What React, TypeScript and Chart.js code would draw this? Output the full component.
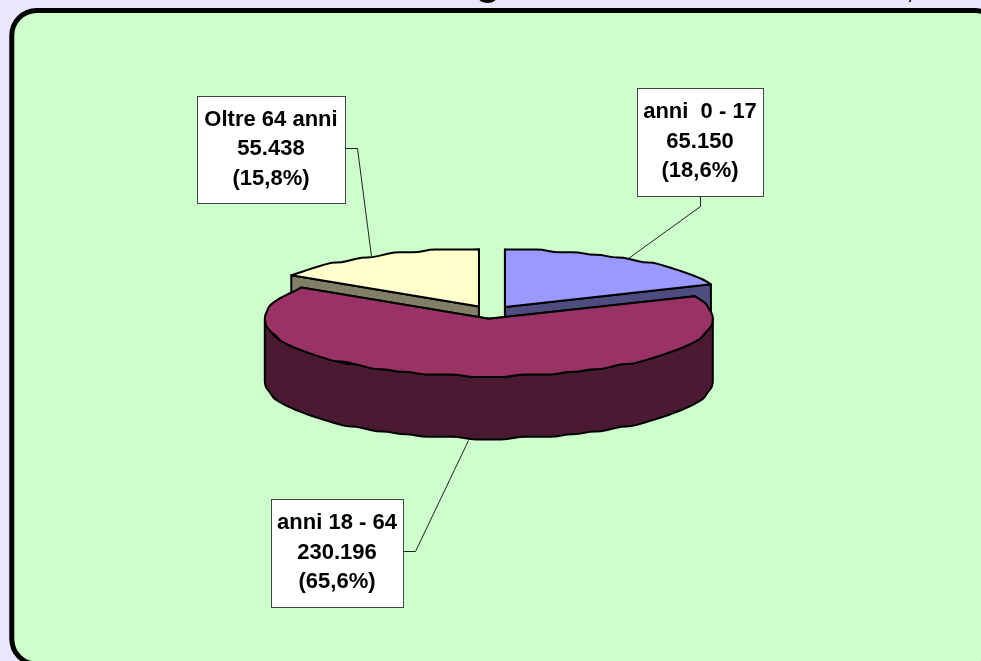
import { useEffect, useRef } from "react";
import { Chart, registerables } from "chart.js";

Chart.register(...registerables);

// Population by age band
const categories = ["anni  0 - 17", "anni 18 - 64", "Oltre 64 anni"];
const values = [65150, 230196, 55438];
const valueLabels = ["65.150", "230.196", "55.438"];
const shareLabels = ["(18,6%)", "(65,6%)", "(15,8%)"];

const topColors = ["#9999FF", "#993366", "#FFFFCC"];
const wallColors = ["#4D4D80", "#4A1A33", "#808066"];

// Callout boxes and their elbow leaders, per slice
const boxes = [
  { x: 637, y: 88, w: 126, h: 108 },
  { x: 271, y: 499, w: 132, h: 108 },
  { x: 197, y: 96, w: 148, h: 107 },
];
const leaders = [
  [[700, 196], [700, 206], [628, 258]],
  [[403, 551], [415, 551], [468, 440]],
  [[345, 148], [357, 148], [371, 256]],
];

const TILT = 0.256;
const EXPLODE = 25.3;
const DEPTH = 62.5;
const OUTLINE = 2;

type Pt = [number, number];

// The rim is sampled on a coarse pixel grid, which gives the edge its stepped look
function rim(cx: number, cy: number, r: number, a0: number, a1: number): Pt[] {
  const step = (3.2 * Math.PI) / 180;
  const n = Math.max(2, Math.ceil(Math.abs(a1 - a0) / step));
  const pts: Pt[] = [];
  for (let i = 0; i <= n; i++) {
    const a = a0 + ((a1 - a0) * i) / n;
    const px = cx + r * Math.cos(a);
    const py = cy + r * TILT * Math.sin(a);
    const snapped = i === 0 || i === n;
    pts.push([px, snapped ? py : Math.round(py / 2.6) * 2.6]);
  }
  return pts;
}

function trace(ctx: CanvasRenderingContext2D, pts: Pt[]) {
  for (let i = 1; i < pts.length - 1; i++) {
    const mx = (pts[i][0] + pts[i + 1][0]) / 2;
    const my = (pts[i][1] + pts[i + 1][1]) / 2;
    ctx.quadraticCurveTo(pts[i][0], pts[i][1], mx, my);
  }
  const last = pts[pts.length - 1];
  ctx.lineTo(last[0], last[1]);
}

function paint(ctx: CanvasRenderingContext2D, fill: string) {
  ctx.fillStyle = fill;
  ctx.fill();
  ctx.stroke();
}

const roundedPanel = {
  id: "roundedPanel",
  beforeDraw(chart: Chart) {
    const { ctx, width, height } = chart;
    ctx.save();
    ctx.fillStyle = "#EAE6FF";
    ctx.fillRect(0, 0, width, height);

    // Descenders of the heading that runs off the top edge
    ctx.fillStyle = "#000000";
    ctx.font = 'bold 40px "Liberation Sans"';
    ctx.textAlign = "center";
    ctx.textBaseline = "alphabetic";
    ctx.fillText("g", 488, -5.5);
    ctx.font = 'bold 20px "Liberation Sans"';
    ctx.fillText(",", 910, -1.5);

    ctx.beginPath();
    ctx.roundRect(11.8, 10.5, 988, 653.5, 25);
    ctx.fillStyle = "#CCFFCC";
    ctx.fill();
    ctx.lineWidth = 5;
    ctx.strokeStyle = "#000000";
    ctx.stroke();
    ctx.restore();
  },
};

const tiltedPie = {
  id: "tiltedPie",
  beforeDatasetsDraw(chart: Chart) {
    const { ctx } = chart;
    const arcs = chart.getDatasetMeta(0).data as any[];
    ctx.save();
    ctx.lineWidth = OUTLINE;
    ctx.lineJoin = "round";
    ctx.strokeStyle = "#000000";

    // Back slices first, so the large front slice overlaps their walls
    const order = arcs.map((_, i) => i).sort((a, b) => (a === 1 ? 1 : b === 1 ? -1 : a - b));
    for (const i of order) {
      const arc = arcs[i];
      const { startAngle: a0, endAngle: a1, outerRadius: r } = arc;
      const mid = (a0 + a1) / 2;
      const cx = arc.x + Math.cos(mid) * EXPLODE;
      const cy = arc.y + Math.sin(mid) * EXPLODE * TILT;
      const edge = (a: number): Pt => [cx + r * Math.cos(a), cy + r * TILT * Math.sin(a)];

      // Flat cut faces
      for (const a of [a0, a1]) {
        const [ex, ey] = edge(a);
        ctx.beginPath();
        ctx.moveTo(cx, cy);
        ctx.lineTo(ex, ey);
        ctx.lineTo(ex, ey + DEPTH);
        ctx.lineTo(cx, cy + DEPTH);
        ctx.closePath();
        paint(ctx, wallColors[i]);
      }

      // Curved wall on the part of the rim facing the viewer
      const from = Math.max(a0, 0);
      const to = Math.min(a1, Math.PI);
      if (to > from) {
        const upper = rim(cx, cy, r, from, to);
        const lower = rim(cx, cy + DEPTH, r, to, from);
        ctx.beginPath();
        ctx.moveTo(upper[0][0], upper[0][1]);
        trace(ctx, upper);
        ctx.lineTo(lower[0][0], lower[0][1]);
        trace(ctx, lower);
        ctx.closePath();
        paint(ctx, wallColors[i]);
      }

      // Top surface
      const top = rim(cx, cy, r, a0, a1);
      ctx.beginPath();
      ctx.moveTo(cx, cy);
      ctx.lineTo(top[0][0], top[0][1]);
      trace(ctx, top);
      ctx.closePath();
      paint(ctx, arc.options.backgroundColor);
    }
    ctx.restore();
    return false;
  },
};

const callouts = {
  id: "callouts",
  afterDraw(chart: Chart) {
    const { ctx } = chart;
    ctx.save();
    categories.forEach((name, i) => {
      const b = boxes[i];
      ctx.strokeStyle = "#222222";
      ctx.lineWidth = 1;
      ctx.beginPath();
      leaders[i].forEach(([x, y], k) => (k ? ctx.lineTo(x + 0.5, y + 0.5) : ctx.moveTo(x + 0.5, y + 0.5)));
      ctx.stroke();

      ctx.fillStyle = "#FFFFFF";
      ctx.fillRect(b.x, b.y, b.w, b.h);
      ctx.strokeStyle = "#444444";
      ctx.strokeRect(b.x + 0.5, b.y + 0.5, b.w, b.h);

      ctx.fillStyle = "#000000";
      ctx.font = 'bold 22px "Liberation Sans"';
      ctx.textAlign = "center";
      ctx.textBaseline = "middle";
      const mid = b.x + b.w / 2;
      const rowY = b.y + b.h / 2 - 0.5;
      ctx.fillText(name, mid, rowY - 29.5);
      ctx.fillText(valueLabels[i], mid, rowY);
      ctx.fillText(shareLabels[i], mid, rowY + 29.5);
    });
    ctx.restore();
  },
};

export default function App() {
  const ref = useRef<HTMLCanvasElement>(null);
  useEffect(() => {
    const chart = new Chart(ref.current!, {
      type: "pie",
      data: {
        labels: categories,
        datasets: [{ data: values, backgroundColor: topColors, borderWidth: 0 }],
      },
      options: {
        animation: false,
        responsive: false,
        layout: { padding: { left: 267, right: 266, top: 88.3, bottom: 124.7 } },
        plugins: { legend: { display: false }, tooltip: { enabled: false } },
      },
      plugins: [roundedPanel, tiltedPie, callouts],
    });
    return () => chart.destroy();
  }, []);
  return (
    <div style={{ position: "fixed", left: 0, top: 0, width: 981, height: 661, overflow: "hidden" }}>
      <canvas ref={ref} width={981} height={661} style={{ display: "block" }} />
    </div>
  );
}
